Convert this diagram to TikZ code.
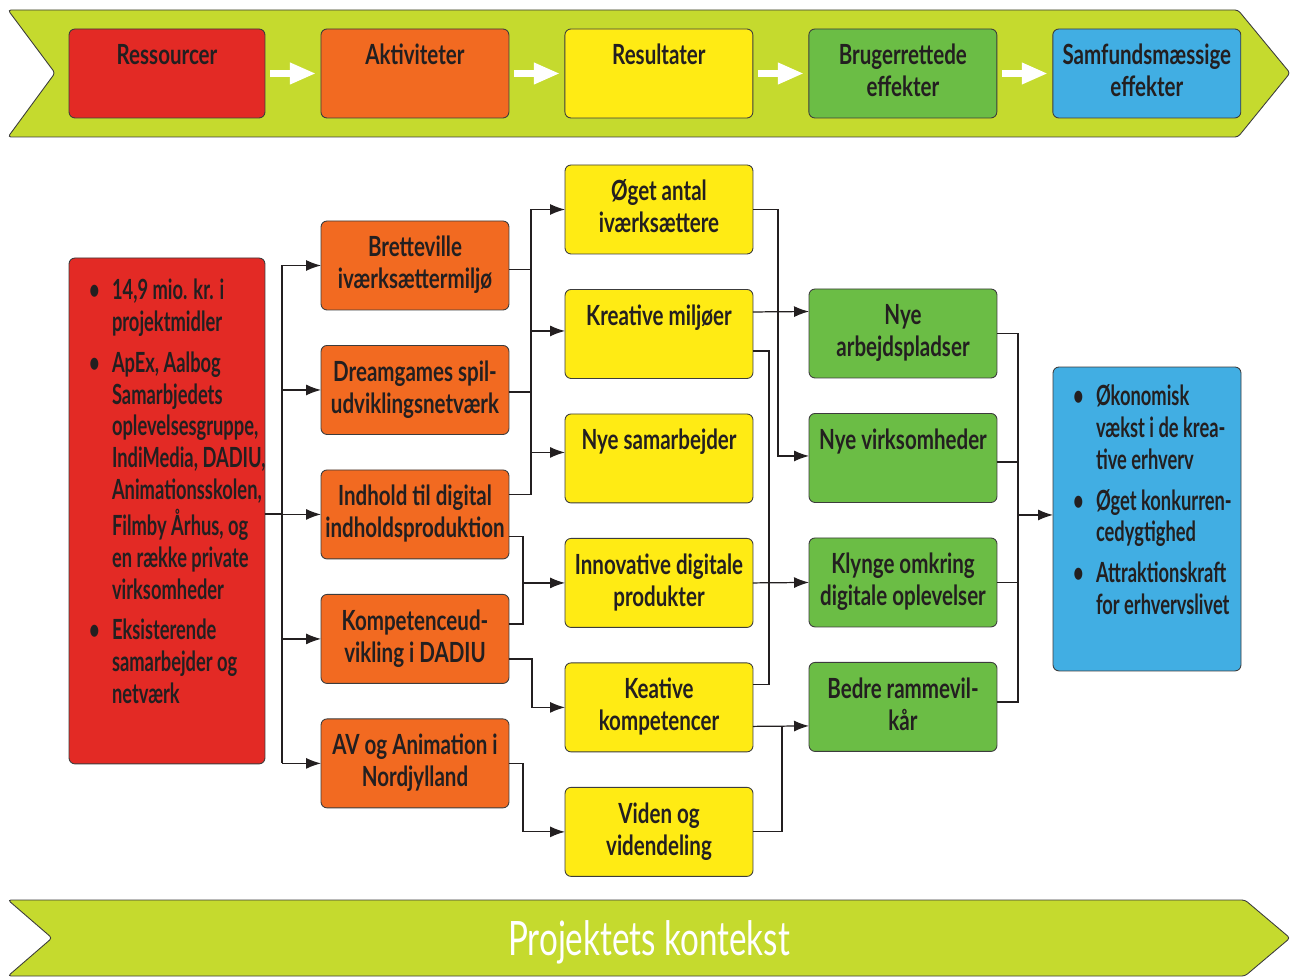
\documentclass[tikz,border=0pt]{standalone}
\usepackage{fontspec}
\setmainfont{Lato}
\newfontfamily\condfam{Lato}[FakeStretch=0.74]
\newfontfamily\listfam{Lato}[FakeStretch=0.66]
\newfontfamily\bandfam{Lato}[FakeStretch=0.70]
\usepackage{xcolor}
\usepackage{tikz}
\usetikzlibrary{positioning,arrows.meta,calc}

\definecolor{bandgreen}{HTML}{C5DA2E}
\definecolor{resred}{HTML}{E32A25}
\definecolor{actorange}{HTML}{F26A21}
\definecolor{outyellow}{HTML}{FFEB14}
\definecolor{effgreen}{HTML}{6BBD45}
\definecolor{socblue}{HTML}{41AEE3}
\definecolor{ink}{HTML}{231F20}
\definecolor{edge}{HTML}{3C3C3C}

\newcommand\boxfont{\condfam\bfseries\fontsize{15.8pt}{18.1pt}\selectfont}
\newcommand\listfont{\listfam\bfseries\fontsize{15.8pt}{18.1pt}\selectfont}
\newcommand\bannerfont{\bandfam\fontsize{27pt}{30pt}\selectfont}

\begin{document}
\begin{tikzpicture}[
x=0.02cm,y=-0.02cm,
node distance=0.71cm and 1.12cm,
box/.style={draw=edge,line width=0.5pt,rounded corners=0.12cm,minimum width=3.76cm,minimum height=1.78cm,inner sep=0pt,outer sep=0pt,text width=3.76cm,text height=0.72cm,text depth=1.06cm,align=flush center,anchor=north,text=ink,font=\boxfont},
wide/.style={box,minimum width=3.92cm,text width=3.92cm},
listbox/.style={box,align=flush left,inner xsep=0.4cm,font=\listfont},
band/.style={fill=bandgreen,draw=edge,line width=0.5pt,rounded corners=0.06cm},
flow/.style={-{Triangle[length=0.52cm,width=0.4cm]},line width=0.14cm,white},
wire/.style={draw=ink,line width=0.7pt},
arrow/.style={wire,-{Latex[length=0.3cm,width=0.22cm]}}
]
\useasboundingbox (0,0) rectangle (1290,976);
\path[band] (8,10) -- (1238,10) -- (1290,73) -- (1238,137) -- (8,137) -- (55,73) -- cycle;
\path[band] (8,900) -- (1245,900) -- (1290,938) -- (1245,976) -- (8,976) -- (52,938) -- cycle;

\node[wide,fill=resred] (ress) at (167,29) {Ressourcer};
\node[box,fill=actorange,right=of ress] (akti) {Aktiviteter};
\node[box,fill=outyellow,right=of akti] (resu) {Resultater};
\node[box,fill=effgreen,right=of resu] (brug) {Brugerrettede\\effekter};
\node[box,fill=socblue,right=of brug] (samf) {Samfundsmæssige\\effekter};
\foreach \a/\b in {ress/akti,akti/resu,resu/brug,brug/samf}
  \draw[flow] ([xshift=0.1cm]\a.east) -- ([xshift=-0.1cm]\b.west);

\node[listbox,fill=resred,minimum width=3.92cm,text width=3.12cm,text height=0.84cm,text depth=9.28cm] (red) at (167,258) {%
\begin{tabular}[t]{@{}p{0.46cm}@{}l@{}}
\textbullet & 14,9 mio. kr. i\\
 & projektmidler\\[5pt]
\textbullet & ApEx, Aalbog\\
 & Samarbjedets\\
 & oplevelsesgruppe,\\
 & IndiMedia, DADIU,\\
 & Animationsskolen,\\
 & Filmby Århus, og\\
 & en række private\\
 & virksomheder\\[5pt]
\textbullet & Eksisterende\\
 & samarbejder og\\
 & netværk
\end{tabular}};

\node[box,fill=actorange] (bre) at (415,221) {Bretteville\\iværksættermiljø};
\node[box,fill=actorange,below=of bre] (dre) {Dreamgames spil-\\udviklingsnetværk};
\node[box,fill=actorange,below=of dre] (ind) {Indhold til digital\\indholdsproduktion};
\node[box,fill=actorange,below=of ind] (kom) {Kompetenceud-\\vikling i DADIU};
\node[box,fill=actorange,below=of kom] (av) {AV og Animation i\\Nordjylland};

\node[box,fill=outyellow] (oeg) at (659,165) {Øget antal\\iværksættere};
\node[box,fill=outyellow,below=of oeg] (kre) {Kreative miljøer};
\node[box,fill=outyellow,below=of kre] (sam) {Nye samarbejder};
\node[box,fill=outyellow,below=of sam] (inn) {Innovative digitale\\produkter};
\node[box,fill=outyellow,below=of inn] (kea) {Keative\\kompetencer};
\node[box,fill=outyellow,below=of kea] (vid) {Viden og\\videndeling};

\node[box,fill=effgreen] (nar) at (903,289) {Nye\\arbejdspladser};
\node[box,fill=effgreen,below=of nar] (nvi) {Nye virksomheder};
\node[box,fill=effgreen,below=of nvi] (kly) {Klynge omkring\\digitale oplevelser};
\node[box,fill=effgreen,below=of kly] (bed) {Bedre rammevil-\\kår};

\node[listbox,fill=socblue,text width=2.96cm,text height=0.78cm,text depth=5.3cm] (blu) at (1147,367) {%
\begin{tabular}[t]{@{}p{0.46cm}@{}l@{}}
\textbullet & Økonomisk\\
 & vækst i de krea-\\
 & tive erhverv\\[5pt]
\textbullet & Øget konkurren-\\
 & cedygtighed\\[5pt]
\textbullet & Attraktionskraft\\
 & for erhvervslivet
\end{tabular}};

\node[font=\bannerfont,text=white,anchor=base] (ctx) at (649,955) {Projektets kontekst};

\draw[wire] ($(red.east)+(0,3)$) -- ++(17,0);
\draw[wire] ($(bre.west)+(-39,0)$) -- ($(av.west)+(-39,0)$);
\foreach \n in {bre,dre,ind,kom,av}
  \draw[arrow] ($(\n.west)+(-39,0)$) -- (\n.west);

\draw[arrow] ($(ind.east)+(0,-20)$) -| ($(oeg.west)+(-34,0)$) -- (oeg.west);
\draw[wire] ($(bre.east)+(0,4)$) -- ++(22,0);
\draw[wire] ($(dre.east)+(0,2)$) -- ++(22,0);
\draw[arrow] ($(kre.west)+(-34,-3)$) -- ++(34,0);
\draw[arrow] ($(sam.west)+(-34,-6)$) -- ++(34,0);
\draw[wire] ($(ind.east)+(0,22)$) -| ($(kom.east)+(14,-15)$) -- ($(kom.east)+(0,-15)$);
\draw[arrow] ($(inn.west)+(-42,0)$) -- (inn.west);
\draw[arrow] ($(kom.east)+(0,20)$) -| ($(kea.west)+(-33,0)$) -- (kea.west);
\draw[arrow] (av.east) -| ($(vid.west)+(-42,0)$) -- (vid.west);

\draw[arrow] (oeg.east) -| ($(nvi.west)+(-31,-2)$) -- ($(nvi.west)+(0,-2)$);
\draw[arrow] ($(kre.east)+(0,-22)$) -- ($(nar.west)+(0,-22)$);
\draw[wire] ($(kre.east)+(0,17)$) -| ($(kea.east)+(16,-23)$) -- ($(kea.east)+(0,-23)$);
\draw[arrow] (inn.east) -- (kly.west);
\draw[arrow] ($(kea.east)+(0,19)$) -- ($(bed.west)+(0,19)$);
\draw[wire] (vid.east) -| ($(bed.west)+(-27,19)$);

\draw[wire] (nar.east) -| ($(bed.east)+(21,-5)$) -- ($(bed.east)+(0,-5)$);
\draw[wire] ($(nvi.east)+(0,4)$) -- ++(21,0);
\draw[wire] (kly.east) -- ++(21,0);
\draw[arrow] ($(blu.west)+(-35,-4)$) -- ($(blu.west)+(0,-4)$);
\end{tikzpicture}
\end{document}
